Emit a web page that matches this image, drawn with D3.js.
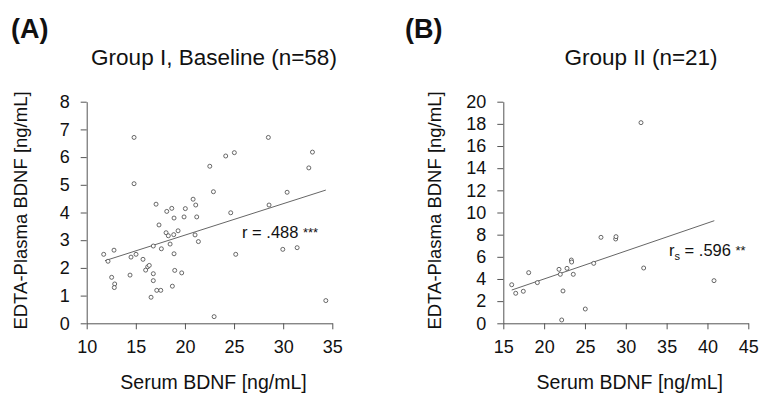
<!DOCTYPE html>
<html>
<head>
<meta charset="utf-8">
<script src="https://cdn.jsdelivr.net/npm/d3@7"></script>
<style>
  body { margin: 0; background: #fff; }
  svg { display: block; font-family: 'Liberation Sans', Arial, sans-serif; }
</style>
</head>
<body>
<div id="chart"></div>
<script>
// Panel A: Group I, Baseline (n=58)
const serumA = [11.73, 12.17, 12.78, 12.54, 12.85, 12.81, 14.82, 14.82, 14.41, 14.51,
  15.02, 15.73, 16.0, 16.21, 16.37, 17.06, 17.36, 16.78, 16.78, 16.78,
  16.55, 17.13, 17.54, 17.6, 18.15, 18.66, 18.89, 18.08, 18.31, 18.86,
  19.3, 18.49, 18.89, 18.96, 19.67, 18.72, 20.04, 19.91, 20.83, 21.1,
  21.2, 21.03, 21.37, 22.53, 22.9, 22.97, 24.15, 25.03, 24.66, 25.17,
  28.49, 28.56, 29.96, 30.4, 31.42, 32.61, 32.98, 34.34];
const plasmaA = [2.49, 2.24, 2.64, 1.66, 1.42, 1.29, 6.71, 5.04, 1.74, 2.39,
  2.49, 2.31, 1.92, 2.04, 2.09, 4.30, 3.55, 2.79, 1.79, 1.54,
  0.94, 1.19, 1.19, 2.69, 4.04, 4.15, 3.80, 3.27, 3.16, 3.20,
  3.34, 2.86, 2.51, 1.91, 1.82, 1.34, 4.14, 3.84, 4.48, 4.27,
  3.84, 3.19, 2.95, 5.67, 4.75, 0.24, 6.04, 6.16, 3.99, 2.49,
  6.71, 4.27, 2.67, 4.73, 2.73, 5.61, 6.18, 0.82];
const fitA = { x: [11.86, 34.34], y: [2.26, 4.81] };

// Panel B: Group II (n=21)
const serumB = [16.03, 16.52, 17.45, 18.11, 19.17, 21.82, 21.98, 22.31, 22.15, 22.8,
  23.33, 23.37, 23.57, 25.04, 26.07, 26.96, 28.76, 28.8, 31.86, 32.19, 40.8];
const plasmaB = [3.48, 2.71, 2.89, 4.57, 3.67, 4.87, 4.42, 2.92, 0.30, 4.96,
  5.71, 5.53, 4.42, 1.29, 5.41, 7.76, 7.61, 7.82, 18.11, 4.99, 3.85];
const fitB = { x: [16.03, 40.84], y: [3.0, 9.26] };

const ticksAx = [10, 15, 20, 25, 30, 35];
const ticksAy = [0, 1, 2, 3, 4, 5, 6, 7, 8];
const ticksBx = [15, 20, 25, 30, 35, 40, 45];
const ticksBy = [0, 2, 4, 6, 8, 10, 12, 14, 16, 18, 20];

const width = 761;
const height = 398;
const axisColor = '#555';

const svg = d3.select('#chart').append('svg')
  .attr('width', width)
  .attr('height', height);

function drawPanel(p) {
  const g = svg.append('g');
  const x = d3.scaleLinear().domain(p.xDomain).range(p.xRange);
  const y = d3.scaleLinear().domain(p.yDomain).range(p.yRange);

  // panel letter
  g.append('text')
    .attr('x', p.letterX).attr('y', 38)
    .attr('font-size', 27).attr('font-weight', 'bold')
    .attr('fill', '#111')
    .text(p.letter);

  // title
  g.append('text')
    .attr('x', p.titleX).attr('y', 65)
    .attr('text-anchor', 'middle')
    .attr('font-size', 22.5).attr('fill', '#111')
    .text(p.title);

  const xAxis = g.append('g')
    .attr('transform', `translate(0,${p.yRange[0]})`)
    .call(d3.axisBottom(x).tickValues(p.xTicks).tickSize(6).tickPadding(11).tickSizeOuter(0));
  const yAxis = g.append('g')
    .attr('transform', `translate(${p.xRange[0]},0)`)
    .call(d3.axisLeft(y).tickValues(p.yTicks).tickSize(6).tickPadding(11).tickSizeOuter(0));

  [xAxis, yAxis].forEach(a => {
    a.select('.domain').attr('stroke', axisColor);
    a.selectAll('.tick line').attr('stroke', axisColor);
    a.selectAll('.tick text')
      .attr('font-size', 18)
      .attr('fill', '#111')
      .attr('font-family', "'Liberation Sans', Arial, sans-serif");
  });

  // axis labels
  g.append('text')
    .attr('x', (p.xRange[0] + p.xRange[1]) / 2 + 4)
    .attr('y', 389)
    .attr('text-anchor', 'middle')
    .attr('font-size', 19.5).attr('fill', '#111')
    .text('Serum BDNF [ng/mL]');

  g.append('text')
    .attr('transform', `translate(${p.yLabelX},${(p.yRange[0] + p.yRange[1]) / 2 - 2}) rotate(-90)`)
    .attr('text-anchor', 'middle')
    .attr('font-size', 18.5).attr('fill', '#111')
    .text('EDTA-Plasma BDNF [ng/mL]');

  // regression line
  g.append('line')
    .attr('x1', x(p.fit.x[0])).attr('y1', y(p.fit.y[0]))
    .attr('x2', x(p.fit.x[1])).attr('y2', y(p.fit.y[1]))
    .attr('stroke', '#666').attr('stroke-width', 1);

  // points
  g.selectAll('circle.pt')
    .data(p.xs.map((v, i) => [v, p.ys[i]]))
    .enter().append('circle')
    .attr('class', 'pt')
    .attr('cx', d => x(d[0]))
    .attr('cy', d => y(d[1]))
    .attr('r', 2)
    .attr('fill', '#fff')
    .attr('stroke', '#444')
    .attr('stroke-width', 0.8);

  // correlation annotation
  const t = g.append('text')
    .attr('x', p.annX).attr('y', p.annY)
    .attr('font-size', 16.5).attr('fill', '#111');
  p.annotate(t);
}

drawPanel({
  letter: '(A)', letterX: 11,
  title: 'Group I, Baseline (n=58)', titleX: 214,
  xDomain: [10, 35], xRange: [86.7, 332.3],
  yDomain: [0, 8], yRange: [323.3, 101.7],
  xTicks: ticksAx, yTicks: ticksAy,
  yLabelX: 27,
  xs: serumA, ys: plasmaA, fit: fitA,
  annX: 242, annY: 238,
  annotate: t => {
    t.append('tspan').text('r = .488 ');
    t.append('tspan').attr('font-size', 13).attr('dy', -1).text('***');
  }
});

drawPanel({
  letter: '(B)', letterX: 405,
  title: 'Group II (n=21)', titleX: 641,
  xDomain: [15, 45], xRange: [503.3, 748.3],
  yDomain: [0, 20], yRange: [323.3, 101.7],
  xTicks: ticksBx, yTicks: ticksBy,
  yLabelX: 441,
  xs: serumB, ys: plasmaB, fit: fitB,
  annX: 669, annY: 256,
  annotate: t => {
    t.append('tspan').text('r');
    t.append('tspan').attr('font-size', 11).attr('dy', 4).text('s');
    t.append('tspan').attr('dy', -4).text(' = .596 ');
    t.append('tspan').attr('font-size', 13).attr('dy', -1).text('**');
  }
});
</script>
</body>
</html>
